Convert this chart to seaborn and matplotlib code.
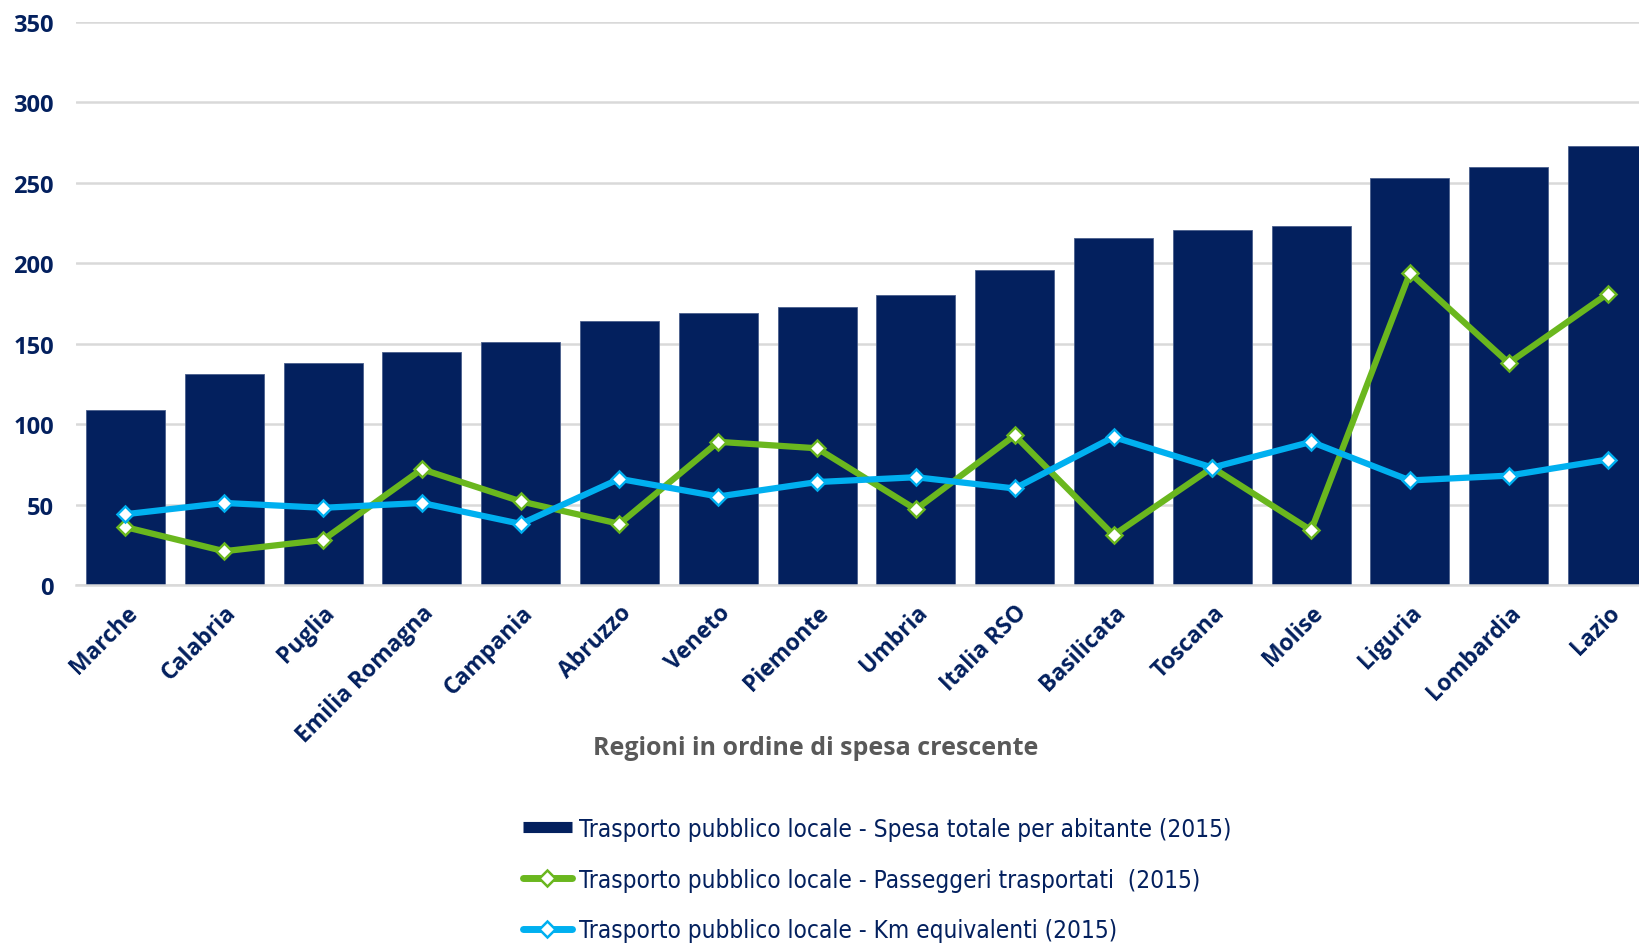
import numpy as np
import pandas as pd
import matplotlib
matplotlib.use('Agg')
import matplotlib.pyplot as plt
import seaborn as sns
from matplotlib.lines import Line2D

# %%
# dati
regioni = ['Marche', 'Calabria', 'Puglia', 'Emilia Romagna', 'Campania', 'Abruzzo',
           'Veneto', 'Piemonte', 'Umbria', 'Italia RSO', 'Basilicata', 'Toscana',
           'Molise', 'Liguria', 'Lombardia', 'Lazio']
spesa = [109, 131, 138, 145, 151, 164, 169, 173, 180, 196, 216, 221, 223, 253, 260, 273]
passeggeri = [36, 21, 28, 72, 52, 38, 89, 85, 47, 93, 31, 73, 34, 194, 138, 181]
km_equiv = [44, 51, 48, 51, 38, 66, 55, 64, 67, 60, 92, 73, 89, 65, 68, 78]

lab_spesa = 'Trasporto pubblico locale - Spesa totale per abitante (2015)'
lab_pass = 'Trasporto pubblico locale - Passeggeri trasportati  (2015)'
lab_km = 'Trasporto pubblico locale - Km equivalenti (2015)'

df = pd.DataFrame({'regione': regioni, 'spesa': spesa,
                   'passeggeri': passeggeri, 'km': km_equiv})

# %%
navy = '#03205E'
green = '#6AB71E'
blue = '#00B0F0'
grid_col = '#D9D9D9'

sns.set_style('white')
plt.rcParams['font.family'] = ['Open Sans', 'DejaVu Sans']

fig = plt.figure(figsize=(16.39, 9.45), dpi=100)
ax = fig.add_axes([76 / 1639, 1 - 586 / 945, 1581 / 1639, (586 - 23) / 945])

sns.barplot(data=df, x='regione', y='spesa', color=navy, width=0.8,
            edgecolor='#4A5F8C', linewidth=0.6, saturation=1, ax=ax, zorder=2)

pos = np.arange(len(regioni))
ax.plot(pos, df['passeggeri'], color=green, lw=4.5, marker='D', markersize=8,
        markerfacecolor='white', markeredgecolor=green, markeredgewidth=1.8, zorder=3)
ax.plot(pos, df['km'], color=blue, lw=4.5, marker='D', markersize=8,
        markerfacecolor='white', markeredgecolor=blue, markeredgewidth=1.8, zorder=3)

ax.set_xlim(-0.5, len(regioni) - 0.5)
ax.set_ylim(0, 350)
ax.set_yticks(range(0, 351, 50))
ax.yaxis.grid(True, color=grid_col, lw=1.8, zorder=0)
ax.set_axisbelow(True)
for s in ['top', 'right', 'left']:
    ax.spines[s].set_visible(False)
ax.spines['bottom'].set_color(grid_col)
ax.spines['bottom'].set_linewidth(1.8)

ax.set_xticks(pos)
ax.set_xticks(np.arange(-0.5, len(regioni)), minor=True)
ax.tick_params(axis='x', which='major', length=0, pad=11)
ax.tick_params(axis='x', which='minor', length=6, width=1.8, color=grid_col)
ax.tick_params(axis='y', length=0, pad=16)
ax.set_xticklabels(regioni, rotation=45, ha='right', rotation_mode='anchor',
                   fontsize=16.5, fontweight='bold', color=navy)
for t in ax.get_yticklabels():
    t.set_fontsize(17)
    t.set_fontweight('bold')
    t.set_color(navy)
ax.set_xlabel('')
ax.set_ylabel('')

fig.text(780 * 1.0453 / 1639, 1 - 716 * 1.0453 / 945, 'Regioni in ordine di spesa crescente',
         ha='center', va='center', fontsize=18, fontweight='bold', color='#595959')

handles = [
    Line2D([0], [0], color=navy, lw=8, solid_capstyle='butt'),
    Line2D([0], [0], color=green, lw=5, marker='D', markersize=8,
           markerfacecolor='white', markeredgecolor=green, markeredgewidth=1.8),
    Line2D([0], [0], color=blue, lw=5, marker='D', markersize=8,
           markerfacecolor='white', markeredgecolor=blue, markeredgewidth=1.8),
]
fig.legend(handles, [lab_spesa, lab_pass, lab_km], loc='upper left',
           bbox_to_anchor=(523 / 1639, 1 - 818 / 945), frameon=False,
           borderpad=0, borderaxespad=0, handlelength=2.0, handletextpad=0.3,
           labelspacing=1.1,
           prop={'family': ['DejaVu Sans'], 'stretch': 'condensed', 'size': 17.5},
           labelcolor=navy)

fig.savefig('out.png', dpi=100)
